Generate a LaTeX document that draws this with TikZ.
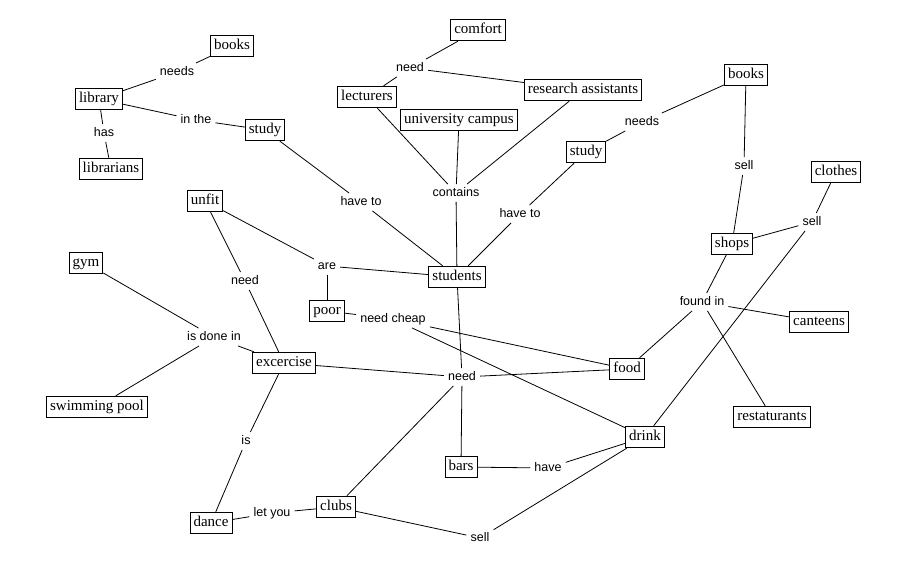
\documentclass[tikz,border=0pt]{standalone}
\usepackage{fontspec}
\setmainfont{Liberation Serif}
\newfontfamily\linkfont{Liberation Sans}
\begin{document}
\begin{tikzpicture}[x=1pt,y=-1pt,
  concept/.style={draw,fill=white,line width=0.9pt,font=\fontsize{15}{18}\selectfont,
    inner xsep=3.5pt,inner ysep=4pt,text height=10.5pt,text depth=3pt},
  link/.style={font=\linkfont\fontsize{12.5}{15}\selectfont,inner xsep=4pt,inner ysep=3pt,
    text height=9pt,text depth=2.5pt},
  conn/.style={line width=0.8pt}]
\useasboundingbox (0,0) rectangle (902,586);
% concepts
\node[concept] (books1) at (232,46) {books};
\node[concept] (library) at (99,99) {library};
\node[concept] (librarians) at (111,169) {librarians};
\node[concept] (study1) at (265,130) {study};
\node[concept] (comfort) at (478,30) {comfort};
\node[concept] (lecturers) at (367,97) {lecturers};
\node[concept] (research) at (583,90) {research assistants};
\node[concept] (campus) at (459,120) {university campus};
\node[concept] (study2) at (586,152) {study};
\node[concept] (books2) at (746,75) {books};
\node[concept] (clothes) at (836,172) {clothes};
\node[concept] (shops) at (732,244) {shops};
\node[concept] (canteens) at (819,322) {canteens};
\node[concept] (restaurants) at (772,417) {restaturants};
\node[concept] (food) at (627,369) {food};
\node[concept] (drink) at (645,437) {drink};
\node[concept] (students) at (457,277) {students};
\node[concept] (unfit) at (205,201) {unfit};
\node[concept] (poor) at (327,311) {poor};
\node[concept] (gym) at (86,263) {gym};
\node[concept] (excercise) at (284,363) {excercise};
\node[concept] (pool) at (97,407) {swimming pool};
\node[concept] (dance) at (211,523) {dance};
\node[concept] (clubs) at (336,507) {clubs};
\node[concept] (bars) at (461,467) {bars};
% links
\node[link] (needsA) at (177,72) {needs};
\node[link] (has) at (104,133) {has};
\node[link] (inthe) at (196,120) {in the};
\node[link] (needT) at (410,68) {need};
\node[link] (contains) at (456,193) {contains};
\node[link] (havetoA) at (361,202) {have to};
\node[link] (havetoB) at (520,214) {have to};
\node[link] (needsB) at (642,122) {needs};
\node[link] (sellA) at (744,166) {sell};
\node[link] (sellB) at (812,222) {sell};
\node[link] (foundin) at (702,302) {found in};
\node[link] (are) at (327,266) {are};
\node[link] (needcheap) at (393,319) {need cheap};
\node[link] (isdonein) at (214,337) {is done in};
\node[link] (needC) at (462,377) {need};
\node[link] (needU) at (245,281) {need};
\node[link] (is) at (246,441) {is};
\node[link] (letyou) at (272,513) {let you};
\node[link] (have) at (548,468) {have};
\node[link] (sellC) at (480,538) {sell};
% connectors
\draw[conn] (library) -- (needsA) -- (books1);
\draw[conn] (library) -- (has) -- (librarians);
\draw[conn] (library) -- (inthe) -- (study1);
\draw[conn] (study1) -- (havetoA) -- (students);
\draw[conn] (lecturers) -- (needT) -- (comfort);
\draw[conn] (needT) -- (research);
\draw[conn] (lecturers) -- (contains);
\draw[conn] (campus) -- (contains);
\draw[conn] (research) -- (contains);
\draw[conn] (contains) -- (students);
\draw[conn] (students) -- (havetoB) -- (study2);
\draw[conn] (study2) -- (needsB) -- (books2);
\draw[conn] (books2) -- (sellA) -- (shops);
\draw[conn] (clothes) -- (sellB) -- (shops);
\draw[conn] (sellB) -- (drink);
\draw[conn] (shops) -- (foundin);
\draw[conn] (foundin) -- (food);
\draw[conn] (foundin) -- (canteens);
\draw[conn] (foundin) -- (restaurants);
\draw[conn] (students) -- (are);
\draw[conn] (are) -- (unfit);
\draw[conn] (are) -- (poor);
\draw[conn] (poor) -- (needcheap);
\draw[conn] (needcheap) -- (food);
\draw[conn] (needcheap) -- (drink);
\draw[conn] (students) -- (needC);
\draw[conn] (needC) -- (excercise);
\draw[conn] (needC) -- (food);
\draw[conn] (needC) -- (clubs);
\draw[conn] (needC) -- (bars);
\draw[conn] (unfit) -- (needU) -- (excercise);
\draw[conn] (gym) -- (isdonein) -- (pool);
\draw[conn] (isdonein) -- (excercise);
\draw[conn] (excercise) -- (is) -- (dance);
\draw[conn] (dance) -- (letyou) -- (clubs);
\draw[conn] (clubs) -- (sellC) -- (drink);
\draw[conn] (bars) -- (have) -- (drink);
\end{tikzpicture}
\end{document}
